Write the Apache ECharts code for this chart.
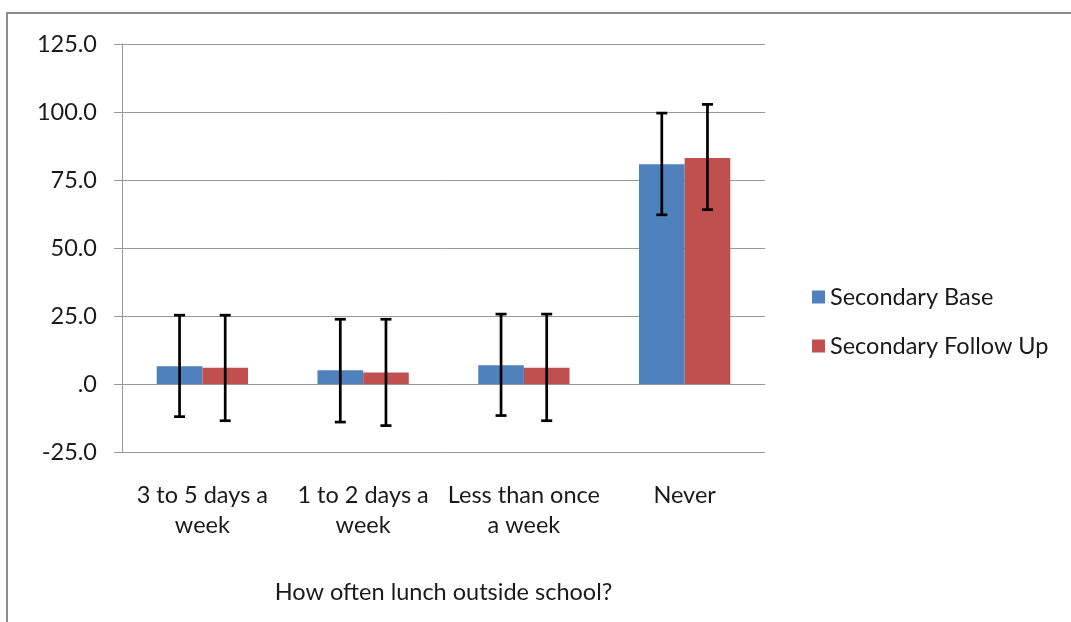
<!DOCTYPE html>
<html>
<head>
<meta charset="utf-8">
<script src="https://cdn.jsdelivr.net/npm/echarts@6/dist/echarts.min.js"></script>
<style>
html,body{margin:0;padding:0;background:#fff;}
#chart{width:1071px;height:622px;}
#frame{position:absolute;left:6px;top:12px;width:1100px;height:700px;border-left:2px solid #8c8c8c;border-top:2px solid #8c8c8c;pointer-events:none;}
</style>
</head>
<body>
<div id="chart"></div>
<div id="frame"></div>
<script>
const categories = ["3 to 5 days a\nweek", "1 to 2 days a\nweek", "Less than once\na week", "Never"];
const seriesNames = ["Secondary Base", "Secondary Follow Up"];
const baseValues = [6.5, 5.1, 6.9, 80.8];
const followValues = [6.0, 4.2, 6.0, 83.1];
const baseLow = [-12.0, -14.0, -11.6, 62.2];
const baseHigh = [25.3, 23.8, 25.7, 99.6];
const followLow = [-13.5, -15.3, -13.5, 64.1];
const followHigh = [25.3, 23.8, 25.7, 102.8];
const yTicks = { min: -25, max: 125, interval: 25 };
const axisTitle = "How often lunch outside school?";

const FONT = "Lato, 'Open Sans', sans-serif";
const FS = 23.5;
const TXT = '#1a1a1a';
const BAR_FRAC = 0.284;

function errData(lows, highs) {
  return categories.map((c, i) => [i, lows[i], highs[i]]);
}
function errRender(sign) {
  return function (params, api) {
    const band = api.size([1, 0])[0];
    const off = sign * band * BAR_FRAC / 2;
    const lo = api.coord([api.value(0), api.value(1)]);
    const hi = api.coord([api.value(0), api.value(2)]);
    const x = lo[0] + off;
    const cap = 5.5;
    const style = { stroke: '#000', lineWidth: 2.7 };
    return {
      type: 'group',
      children: [
        { type: 'line', shape: { x1: x, y1: lo[1], x2: x, y2: hi[1] }, style },
        { type: 'line', shape: { x1: x - cap, y1: lo[1], x2: x + cap, y2: lo[1] }, style },
        { type: 'line', shape: { x1: x - cap, y1: hi[1], x2: x + cap, y2: hi[1] }, style }
      ]
    };
  };
}

const chart = echarts.init(document.getElementById('chart'));
chart.setOption({
  animation: false,
  textStyle: { fontFamily: FONT },
  color: ['#4F81BD', '#C0504D'],
  grid: { left: 122, right: 306, top: 44, bottom: 170, containLabel: false },
  legend: {
    orient: 'vertical',
    left: 807,
    top: 280,
    itemWidth: 13,
    itemHeight: 13,
    itemGap: 25,
    icon: 'rect',
    data: seriesNames,
    textStyle: { fontFamily: FONT, fontSize: FS, lineHeight: 24, color: TXT }
  },
  xAxis: {
    type: 'category',
    data: categories,
    axisLine: { show: false },
    axisTick: { show: false },
    axisLabel: { fontFamily: FONT, fontSize: FS, color: TXT, margin: 28, lineHeight: 30, interval: 0 },
    name: axisTitle,
    nameLocation: 'middle',
    nameGap: 128,
    nameTextStyle: { fontFamily: FONT, fontSize: FS, color: TXT }
  },
  yAxis: {
    type: 'value',
    min: yTicks.min,
    max: yTicks.max,
    interval: yTicks.interval,
    axisLine: { show: true, lineStyle: { color: '#999', width: 1 } },
    axisTick: { show: true, inside: false, length: 8, lineStyle: { color: '#999' } },
    splitLine: { show: true, lineStyle: { color: '#999', width: 1 } },
    axisLabel: {
      fontFamily: FONT, fontSize: FS, color: TXT, margin: 25,
      formatter: v => v === 0 ? '.0' : v.toFixed(1)
    }
  },
  series: [
    { name: seriesNames[0], type: 'bar', data: baseValues, barWidth: (BAR_FRAC * 100) + '%', barGap: '0%' },
    { name: seriesNames[1], type: 'bar', data: followValues, barWidth: (BAR_FRAC * 100) + '%', barGap: '0%' },
    { type: 'custom', renderItem: errRender(-1), data: errData(baseLow, baseHigh), encode: { x: 0, y: [1, 2] }, z: 10 },
    { type: 'custom', renderItem: errRender(1), data: errData(followLow, followHigh), encode: { x: 0, y: [1, 2] }, z: 10 }
  ]
});
</script>
</body>
</html>
